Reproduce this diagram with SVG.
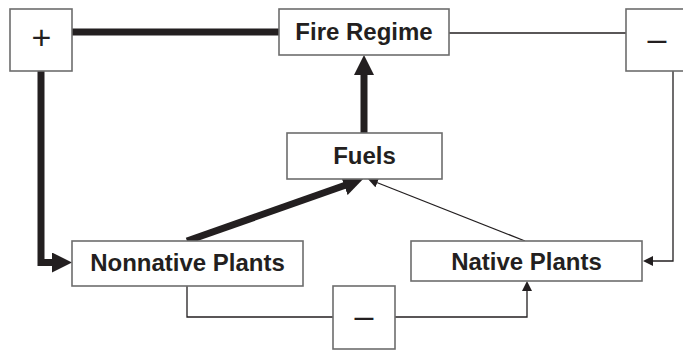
<svg xmlns="http://www.w3.org/2000/svg" width="683" height="350" viewBox="0 0 683 350">
<style>
.box{fill:#fff;stroke:#6d6d6d;stroke-width:1.6}
.lbl{font-family:"Liberation Sans",Arial,sans-serif;font-weight:bold;font-size:24px;fill:#231f20;text-anchor:middle}
.sym{font-family:"Liberation Sans",Arial,sans-serif;font-size:34px;fill:#231f20;text-anchor:middle}
.thick{fill:none;stroke:#231f20;stroke-width:7}
.thin{fill:none;stroke:#231f20;stroke-width:1.3}
</style>
<defs>
<marker id="big" markerUnits="userSpaceOnUse" markerWidth="20" markerHeight="20" refX="10" refY="10" orient="auto" viewBox="0 0 20 20">
<path d="M0,0 L20,10 L0,20 z" fill="#231f20"/>
</marker>
<marker id="small" markerUnits="userSpaceOnUse" markerWidth="10" markerHeight="10" refX="6" refY="5" orient="auto" viewBox="0 0 10 10">
<path d="M0,0 L10,5 L0,10 z" fill="#231f20"/>
</marker>
</defs>
<g id="connectors">
<path class="thick" d="M72,32 H279"/>
<path class="thin" d="M449,33 H626"/>
<path class="thin" d="M673,71 V261 H647" marker-end="url(#small)"/>
<path class="thick" d="M41,71 V262.5 H62" marker-end="url(#big)"/>
<path class="thick" d="M364,133 V65" marker-end="url(#big)"/>
<path class="thick" d="M187,241 L353.7,182.3" marker-end="url(#big)"/>
<path class="thin" d="M525,241 L371.7,180.5" marker-end="url(#small)"/>
<path class="thin" d="M187,286 V317 H333"/>
<path class="thin" d="M395,317 H527 V285" marker-end="url(#small)"/>
</g>
<g id="plus">
<rect class="box" x="10" y="9" width="62" height="62"/>
<text class="sym" x="41.5" y="48.5">+</text>
</g>
<g id="minus-top">
<rect class="box" x="626" y="9" width="62" height="62"/>
<text class="sym" x="657" y="49.5">–</text>
</g>
<g id="minus-bottom">
<rect class="box" x="333" y="286" width="62" height="63"/>
<text class="sym" x="364" y="327">–</text>
</g>
<g id="fire-regime">
<rect class="box" x="279" y="9" width="170" height="46"/>
<text class="lbl" x="364" y="40">Fire Regime</text>
</g>
<g id="fuels">
<rect class="box" x="287" y="133" width="155" height="46"/>
<text class="lbl" x="364.5" y="164">Fuels</text>
</g>
<g id="nonnative-plants">
<rect class="box" x="72" y="241" width="231" height="45"/>
<text class="lbl" x="187.5" y="271">Nonnative Plants</text>
</g>
<g id="native-plants">
<rect class="box" x="411" y="241" width="231" height="40"/>
<text class="lbl" x="526.5" y="270">Native Plants</text>
</g>
</svg>
